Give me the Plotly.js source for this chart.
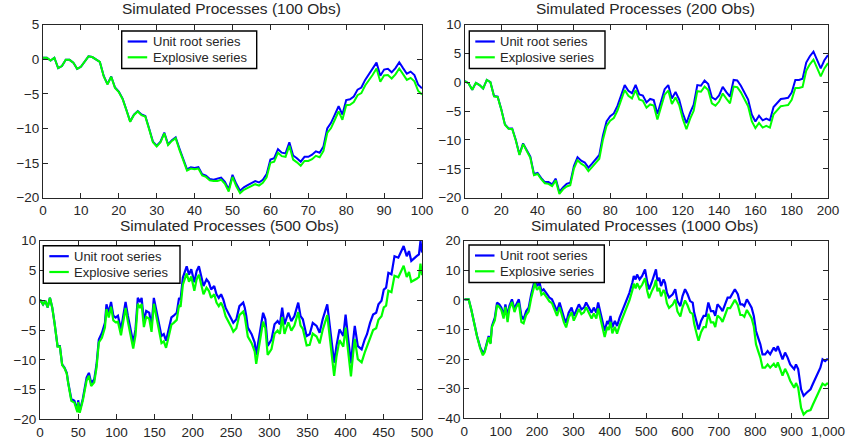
<!DOCTYPE html>
<html>
<head>
<meta charset="utf-8">
<script src="https://cdn.plot.ly/plotly-3.0.1.min.js"></script>
<style>
html,body{margin:0;padding:0;background:#fff;}
#chart{width:852px;height:445px;}
</style>
</head>
<body>
<div id="chart"></div>
<script>
// ---------- data ----------
var seriesNames = ["Unit root series", "Explosive series"];
var panelTitles = ["Simulated Processes (100 Obs)", "Simulated Processes (200 Obs)",
                   "Simulated Processes (500 Obs)", "Simulated Processes (1000 Obs)"];

// Panel 1: observations 0..100 (step 1)
var p1Step = 1;
var p1Unit = [0.2,0.2,-0.2,0.2,-1.3,-1.0,-0.1,-0.1,-0.5,-1.4,-1.1,-0.4,0.4,0.3,0.0,-0.4,-2.4,-3.6,-2.5,-4.1,
  -4.7,-5.7,-7.3,-9.0,-8.0,-7.5,-8.0,-8.2,-10.0,-11.9,-12.5,-11.9,-10.6,-12.3,-11.7,-11.3,-12.9,-14.5,-15.9,-15.6,
  -15.7,-15.6,-16.6,-16.8,-17.3,-17.4,-17.3,-17.1,-17.7,-18.8,-16.7,-18.0,-19.0,-18.5,-18.2,-17.9,-17.6,-17.8,-17.4,-16.6,
  -14.5,-14.3,-13.0,-13.5,-13.6,-12.0,-13.9,-14.3,-14.8,-14.1,-14.1,-13.8,-13.3,-13.5,-12.6,-10.0,-9.2,-8.0,-6.8,-8.0,
  -5.9,-5.8,-5.4,-4.4,-4.1,-3.0,-2.2,-1.4,-0.5,-2.4,-1.5,-1.4,-1.9,-1.3,-0.45,-1.3,-2.1,-1.8,-2.3,-3.7,-4.2];
var p1Expl = [0.2,0.2,-0.2,0.2,-1.3,-1.0,-0.1,-0.1,-0.5,-1.4,-1.1,-0.4,0.4,0.3,0.0,-0.4,-2.45,-3.65,-2.55,-4.15,
  -4.75,-5.75,-7.35,-9.05,-8.05,-7.55,-8.1,-8.3,-10.1,-12.0,-12.6,-12.0,-10.7,-12.4,-11.8,-11.4,-13.1,-14.7,-16.1,-15.8,
  -15.9,-15.8,-16.8,-17.0,-17.5,-17.6,-17.6,-17.4,-18.0,-19.1,-17.0,-18.35,-19.35,-18.85,-18.55,-18.25,-18.05,-18.25,-17.85,-17.05,
  -14.95,-14.8,-13.5,-14.0,-14.1,-12.5,-14.5,-14.9,-15.4,-14.7,-14.7,-14.45,-13.95,-14.15,-13.25,-10.65,-9.95,-8.75,-7.55,-8.75,
  -6.65,-6.6,-6.2,-5.2,-4.9,-3.8,-3.05,-2.25,-1.35,-3.25,-2.35,-2.3,-2.8,-2.2,-1.35,-2.2,-3.0,-2.7,-3.2,-4.6,-5.1];

// Panel 2: observations 0..200 (step 2)
var p2Step = 2;
var p2Unit = [0.2,-0.2,-1.3,-0.1,-0.5,-1.1,0.4,0.0,-2.4,-2.5,-4.7,-7.3,-8.0,-8.0,-10.0,-12.5,-10.6,-11.7,-12.9,-15.9,
  -15.7,-16.6,-17.3,-17.3,-17.7,-16.7,-19.0,-18.2,-17.6,-17.4,-14.5,-13.0,-13.6,-13.9,-14.8,-14.1,-13.3,-12.6,-9.2,-6.8,
  -5.9,-5.4,-4.1,-2.2,-0.5,-1.5,-1.9,-0.45,-2.1,-2.3,-3.5,-2.9,-3.1,-5.5,-3.5,-1.2,-0.5,-2.8,-1.7,-3.0,
  -5.4,-7.1,-5.3,-3.9,-0.5,-0.6,0.3,-0.3,-2.6,-3.0,-2.3,-0.8,-1.7,-2.5,0.4,0.3,-0.6,-1.7,-3.0,-5.6,
  -6.8,-5.8,-6.6,-6.3,-6.6,-4.3,-3.6,-2.9,-2.8,-2.7,-1.8,0.4,0.4,0.6,3.4,4.5,5.3,3.9,2.4,3.8,4.7];
var p2Expl = [0.2,-0.2,-1.3,-0.1,-0.5,-1.1,0.4,0.0,-2.45,-2.55,-4.75,-7.35,-8.05,-8.1,-10.1,-12.6,-10.7,-11.8,-13.1,-16.1,
  -15.9,-16.8,-17.5,-17.6,-18.0,-17.0,-19.35,-18.55,-18.05,-17.85,-14.95,-13.5,-14.1,-14.5,-15.4,-14.7,-13.95,-13.25,-9.95,-7.55,
  -6.65,-6.2,-4.9,-3.05,-1.35,-2.35,-2.8,-1.35,-3.0,-3.2,-4.4,-3.85,-4.05,-6.45,-4.45,-2.15,-1.45,-3.75,-2.65,-3.95,
  -6.35,-8.15,-6.35,-4.95,-1.55,-1.65,-0.75,-1.35,-3.65,-4.05,-3.35,-1.95,-2.85,-3.65,-0.75,-0.85,-1.75,-2.85,-4.15,-6.75,
  -7.95,-7.05,-7.85,-7.55,-7.85,-5.55,-4.85,-4.15,-4.05,-3.95,-3.05,-1.0,-1.0,-0.8,2.0,3.1,3.9,2.5,1.0,2.4,3.3];

// Panel 3: observations 0..500 (read at these positions)
var p3Obs = [0,4,7,10,13,16,19,23,26,29,32,35,37,41,45,49,50,52,56,61,64,67,71,74,77,81,85,87,90,93,96,99,
  102,106,109,112,115,119,122,125,128,131,133,136,139,143,146,149,152,155,159,162,165,169,172,175,179,182,184,187,192,195,198,
  202,205,208,211,214,218,221,224,228,231,234,237,240,243,246,250,253,257,261,266,268,270,272,277,281,283,288,292,295,298,
  303,307,311,314,317,320,325,329,333,338,341,344,349,353,357,362,366,370,376,379,382,385,388,392,397,
  400,403,407,410,412,416,421,425,428,432,436,440,443,447,450,453,456,460,464,469,473,476,480,483,486,490,493,496,498,500];
var p3Unit = [0.1,-0.7,-0.1,-1.2,0.4,-1.2,-3.8,-7.7,-7.7,-10.8,-11.3,-12.2,-13.9,-16.6,-16.9,-18.5,-16.8,-18.6,-16.6,-13.0,-12.2,-13.9,-13.3,-10.8,-6.6,-5.5,-3.8,-0.7,-2.1,-0.3,-2.6,-2.9,
  -2.6,-4.9,-2.6,-0.3,-2.6,-5.2,-7.1,-4.9,0.4,-0.3,0.4,-3.5,-1.8,-2.1,-4.3,0.4,-1.5,-3.8,-6.0,-5.7,-6.8,-4.6,-2.9,-2.6,-2.1,0.4,0.1,3.8,5.7,4.3,5.2,
  3.0,4.9,5.7,3.8,2.4,3.5,3.0,1.8,2.4,1.0,0.4,1.0,0.1,-1.3,-2.0,-2.9,-3.8,-3.2,-1.0,-0.4,-1.25,-2.65,-4.6,-5.7,-7.1,-9.2,-5.45,-2.1,-3.2,-7.7,
  -6.6,-4.05,-3.5,-4.05,-1.25,-4.05,-2.1,-3.5,-2.65,-0.4,-2.65,-3.2,-6.0,-5.7,-3.8,-4.3,-5.45,-3.2,-0.7,-3.8,-7.1,-10.5,-7.7,-4.9,-6.0,
  -2.4,-6.0,-10.6,-6.6,-4.3,-7.7,-8.25,-6.6,-5.7,-3.8,-2.4,-2.1,-0.7,-0.1,1.8,2.1,4.6,4.35,7.4,7.15,8.25,9.1,7.4,8.25,6.6,7.15,7.4,7.7,9.95,8.0];
var p3Expl = [0.1,-0.7,-0.1,-1.2,0.4,-1.2,-3.8,-7.8,-7.8,-10.9,-11.4,-12.3,-14.0,-16.9,-17.2,-18.8,-17.1,-18.9,-16.9,-13.5,-12.7,-14.4,-13.8,-11.3,-7.1,-6.3,-4.6,-1.5,-2.9,-1.1,-3.4,-3.7,
  -3.6,-5.9,-3.6,-1.3,-3.6,-6.2,-8.1,-5.9,-0.6,-1.3,-0.6,-4.5,-2.8,-3.1,-5.3,-0.6,-2.7,-5.0,-7.2,-6.9,-8.0,-5.8,-4.1,-3.8,-3.3,-0.8,-1.1,2.6,4.5,3.1,4.0,
  1.6,3.5,4.3,2.4,1.0,2.1,1.6,0.4,1.0,-0.4,-1.0,-0.4,-1.3,-2.7,-3.4,-4.4,-5.3,-4.7,-2.5,-1.9,-2.75,-4.15,-6.1,-7.2,-8.6,-10.7,-6.95,-3.6,-4.7,-9.2,
  -8.2,-5.65,-5.1,-5.65,-2.85,-5.65,-3.7,-5.1,-4.25,-2.0,-4.25,-4.8,-7.6,-7.5,-5.6,-6.1,-7.25,-5.0,-2.5,-5.6,-8.9,-12.7,-9.5,-6.7,-7.8,
  -4.6,-8.2,-12.8,-8.8,-6.5,-9.9,-10.45,-8.8,-7.9,-6.4,-5.0,-4.7,-3.3,-2.7,-1.2,-0.9,1.6,1.35,4.1,3.85,4.95,5.8,3.9,4.75,3.1,3.35,3.6,3.9,6.15,4.2];

// Panel 4: observations 0..1000 (read at these positions)
var p4Obs = [0,12,19,26,35,44,51,56,63,67,72,76,84,90,96,102,108,113,119,124,131,138,143,150,157,163,170,177,184,189,194,200,
  207,212,218,228,234,241,249,255,262,267,274,280,287,295,301,307,315,322,329,335,342,350,356,363,368,374,381,386,393,397,
  402,407,414,420,427,434,441,448,454,462,466,471,475,482,489,495,497,503,508,515,522,527,531,536,541,548,552,557,563,573,580,586,594,
  600,607,614,621,628,632,640,644,651,658,664,671,678,685,690,696,704,710,717,724,731,738,744,752,759,765,770,777,784,790,796,
  802,808,814,820,827,834,841,851,857,862,869,875,882,889,896,903,907,912,918,926,933,942,952,958,964,972,979,985,992,997,1000];
var p4Unit = [0.2,0.2,-3.2,-7.7,-12.2,-16.1,-17.8,-17.3,-13.3,-12.2,-14.5,-8.8,-6.0,-0.9,-1.5,-2.6,-5.4,-1.5,-5.4,-2.0,0.2,-3.2,-1.5,0.2,-5.4,-6.6,-3.8,-2.6,1.9,4.7,6.9,4.7,
  5.8,3.0,3.6,1.9,0.8,0.2,-2.0,-3.8,-0.9,-3.2,-6.0,-7.7,-4.3,-2.6,-5.4,-3.8,-1.5,-3.2,-2.6,-0.9,-2.6,-4.3,-2.6,-4.3,-0.9,-4.3,-7.7,-10.5,-7.1,-8.2,
  -5.4,-9.3,-7.1,-8.8,-6.0,-3.8,-1.5,0.8,2.4,5.8,8.1,6.9,8.6,6.9,8.1,9.8,10.3,6.0,3.6,5.8,8.1,10.3,6.4,7.5,4.7,6.9,5.8,2.4,0.8,1.9,3.6,-0.4,-2.1,
  1.3,3.6,1.9,-0.4,-0.9,-4.3,-8.2,-10.0,-7.1,-5.4,-5.4,-0.9,-3.8,-3.8,-5.4,-1.5,-2.6,-3.8,-1.5,0.8,0.8,2.4,3.6,1.9,-1.5,-1.5,-2.1,0.2,-1.5,-2.6,-5.4,
  -10.5,-12.8,-15.0,-18.4,-18.4,-17.3,-18.4,-16.1,-17.3,-15.6,-18.4,-20.1,-17.8,-19.5,-21.8,-22.9,-23.4,-21.8,-23.4,-30.2,-32.4,-31.3,-30.2,-28.5,-26.8,-24.5,-22.9,-20.1,-20.7,-20.1,-20.1];
var p4Expl = [0.2,0.2,-3.2,-7.8,-12.4,-16.5,-18.7,-17.7,-13.7,-12.6,-14.9,-9.2,-6.9,-1.8,-2.4,-3.5,-6.3,-2.4,-7.5,-2.9,-0.7,-4.1,-2.4,-1.1,-7.5,-7.9,-5.1,-3.9,0.6,3.4,5.6,3.4,
  4.5,1.7,2.3,0.6,-0.5,-1.1,-3.3,-5.4,-2.5,-4.8,-7.6,-9.3,-5.9,-4.2,-7.0,-5.4,-3.1,-4.8,-4.2,-2.5,-4.2,-6.3,-4.6,-6.3,-2.9,-6.3,-9.7,-12.5,-9.1,-10.2,
  -7.4,-11.3,-9.1,-11.4,-8.6,-6.4,-4.1,-1.8,-0.2,3.2,5.5,3.9,5.6,3.9,5.1,6.8,7.3,3.0,0.6,2.8,4.6,6.8,2.9,4.0,1.2,3.4,2.3,-1.1,-2.7,-1.6,0.1,-3.9,-5.6,
  -2.5,-0.2,-1.9,-4.2,-4.7,-8.1,-12.0,-13.8,-10.9,-9.2,-9.2,-4.7,-7.6,-7.6,-9.2,-5.3,-6.2,-7.4,-5.1,-2.8,-2.8,-1.2,0.0,-1.7,-5.1,-5.1,-5.7,-3.4,-5.1,-6.2,-9.0,
  -15.0,-17.3,-19.5,-22.9,-22.9,-21.8,-22.9,-21.6,-22.8,-21.1,-23.9,-25.6,-23.3,-25.0,-27.3,-29.2,-29.7,-28.1,-29.7,-36.5,-38.7,-37.6,-37.2,-35.5,-33.8,-31.5,-29.9,-28.3,-28.9,-28.3,-28.3];

// axis tick values
var p1XTicks = [0,10,20,30,40,50,60,70,80,90,100];
var p1YTicks = [-20,-15,-10,-5,0,5];
var p2XTicks = [0,20,40,60,80,100,120,140,160,180,200];
var p2YTicks = [-20,-15,-10,-5,0,5,10];
var p3XTicks = [0,50,100,150,200,250,300,350,400,450,500];
var p3YTicks = [-20,-15,-10,-5,0,5,10];
var p4XTicks = [0,100,200,300,400,500,600,700,800,900,1000];
var p4YTicks = [-40,-30,-20,-10,0,10,20];

// ---------- build ----------
function idx(n, step){ var a=[]; for(var i=0;i<n;i++) a.push(i*step); return a; }

var BLUE = "#0000ff", GREEN = "#00ff00";
var COLORS = [BLUE, GREEN];
var FONT = "Liberation Sans, Arial, Helvetica, sans-serif";
var INK = "#262626";

var panels = [
  {x: idx(p1Unit.length, p1Step), u: p1Unit, e: p1Expl, w: 2.0},
  {x: idx(p2Unit.length, p2Step), u: p2Unit, e: p2Expl, w: 2.0},
  {x: p3Obs, u: p3Unit, e: p3Expl, w: 2.2},
  {x: p4Obs, u: p4Unit, e: p4Expl, w: 2.2}
];

var traces = [];
panels.forEach(function(p, i){
  var s = i === 0 ? "" : String(i+1);
  traces.push({x: p.x, y: p.u, type: "scatter", mode: "lines", name: seriesNames[0],
    line: {color: BLUE, width: p.w}, xaxis: "x"+s, yaxis: "y"+s, showlegend: false});
  traces.push({x: p.x, y: p.e, type: "scatter", mode: "lines", name: seriesNames[1],
    line: {color: GREEN, width: p.w}, xaxis: "x"+s, yaxis: "y"+s, showlegend: false});
});

var W = 852, H = 445;
// plot boxes in pixels [left, right, top, bottom]
var boxes = [[43, 422, 24.5, 197.7], [465, 828, 24.5, 197.7], [40, 422, 240.7, 419.3], [464.3, 828, 240.7, 418.3]];
var xr = [[0,100],[0,200],[0,500],[0,1000]];
var yr = [[-20,5],[-20,10],[-20,10],[-40,20]];
var xt = [p1XTicks, p2XTicks, p3XTicks, p4XTicks];
var yt = [p1YTicks, p2YTicks, p3YTicks, p4YTicks];
// legend boxes in pixels [left, top, width, height]
var legendBoxes = [[121.7, 31, 135, 37.5], [469.3, 31, 135.7, 37.5], [43.3, 245.7, 136.7, 37.5], [469, 245, 135.3, 37.5]];

var layout = {
  width: W, height: H,
  margin: {l: 0, r: 0, t: 0, b: 0, pad: 0},
  paper_bgcolor: "#fff", plot_bgcolor: "#fff",
  font: {family: FONT, size: 13.5, color: INK},
  showlegend: false,
  annotations: [],
  shapes: []
};

function axisCommon(){
  return {showgrid: false, zeroline: false, showline: true, linecolor: INK, linewidth: 1,
    mirror: "ticks", ticks: "inside", ticklen: 5, tickwidth: 1, tickcolor: INK,
    tickfont: {family: FONT, size: 13.5, color: INK}, fixedrange: true};
}
function px(x){ return x / W; }
function py(y){ return 1 - y / H; }

boxes.forEach(function(b, i){
  var s = i === 0 ? "" : String(i+1);
  var xa = axisCommon(), ya = axisCommon();
  xa.domain = [px(b[0]), px(b[1])];
  xa.range = xr[i]; xa.tickvals = xt[i]; xa.tickformat = ","; xa.anchor = "y"+s;
  ya.domain = [py(b[3]), py(b[2])];
  ya.range = yr[i]; ya.tickvals = yt[i]; ya.anchor = "x"+s;
  layout["xaxis"+s] = xa;
  layout["yaxis"+s] = ya;

  layout.annotations.push({text: panelTitles[i], xref: "paper", yref: "paper",
    x: px((b[0]+b[1])/2 - 1.5), y: py(b[2]-5), xanchor: "center", yanchor: "bottom",
    showarrow: false, font: {family: FONT, size: 15.5, color: INK}});

  // legend (box, line samples, labels)
  var L = legendBoxes[i];
  layout.shapes.push({type: "rect", xref: "paper", yref: "paper",
    x0: px(L[0]), x1: px(L[0]+L[2]), y0: py(L[1]+L[3]), y1: py(L[1]),
    fillcolor: "#fff", line: {color: "#000", width: 1.4}, layer: "above"});
  seriesNames.forEach(function(nm, k){
    var yy = L[1] + 10.5 + k*15.8;
    layout.shapes.push({type: "line", xref: "paper", yref: "paper",
      x0: px(L[0]+6), x1: px(L[0]+25.5), y0: py(yy), y1: py(yy),
      line: {color: COLORS[k], width: 2.2}, layer: "above"});
    layout.annotations.push({text: nm, xref: "paper", yref: "paper",
      x: px(L[0]+29), y: py(yy), xanchor: "left", yanchor: "middle", showarrow: false,
      font: {family: FONT, size: 13, color: INK}});
  });
});

Plotly.newPlot("chart", traces, layout, {staticPlot: true, displayModeBar: false});
</script>
</body>
</html>
